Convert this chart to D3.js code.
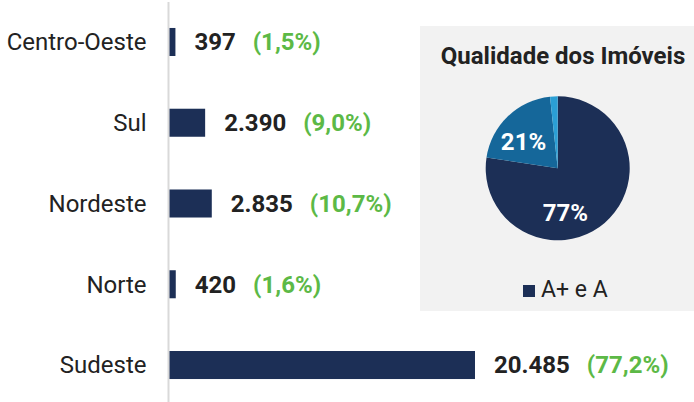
<!doctype html>
<html>
<head>
    <meta charset="utf-8">
    <title>Regiões</title>
    <script src="https://d3js.org/d3.v7.min.js"></script>
</head>

<style>
    body { margin: 0; background: #fff; }
    text { font-family: Roboto, sans-serif; }
</style>

<body>
<script>

// data
var regions = ['Centro-Oeste', 'Sul', 'Nordeste', 'Norte', 'Sudeste'];
var counts = [397, 2390, 2835, 420, 20485];
var countLabels = ['397', '2.390', '2.835', '420', '20.485'];
var shareLabels = ['(1,5%)', '(9,0%)', '(10,7%)', '(1,6%)', '(77,2%)'];

var pieTitle = 'Qualidade dos Imóveis';
var pieClasses = ['A+ e A', 'B', 'C'];
var pieValues = [77.4, 20.9, 1.7];
var pieLabels = ['77%', '21%', ''];
var legendClasses = ['A+ e A'];

// canvas
var width = 694, height = 402;
var navy = '#1c2f56';
var green = '#5cb946';

var svg = d3.select('body').append('svg')
            .attr('width', width)
            .attr('height', height);

// bar scales
var barLeft = 169.5;
var x = d3.scaleLinear()
          .domain([0, d3.max(counts)])
          .range([barLeft, 475]);

var y = d3.scaleBand()
          .domain(regions)
          .range([1.6, 405.4])
          .paddingInner(0.653)
          .paddingOuter(0.3265);

// vertical axis line
svg.append('line')
   .attr('x1', barLeft - 1).attr('x2', barLeft - 1)
   .attr('y1', 2).attr('y2', height)
   .attr('stroke', '#d9d9d9')
   .attr('stroke-width', 2);

// bars
svg.selectAll('rect.bar')
   .data(regions)
   .enter()
   .append('rect')
   .attr('class', 'bar')
   .attr('x', x(0))
   .attr('y', function(d) { return y(d); })
   .attr('width', function(d, i) { return x(counts[i]) - x(0); })
   .attr('height', y.bandwidth())
   .attr('fill', navy);

// category labels
svg.selectAll('text.cat')
   .data(regions)
   .enter()
   .append('text')
   .attr('class', 'cat')
   .attr('x', barLeft - 23)
   .attr('y', function(d) { return y(d) + y.bandwidth() / 2; })
   .attr('dy', '0.35em')
   .attr('text-anchor', 'end')
   .style('font-size', '24px')
   .attr('fill', '#222')
   .text(function(d) { return d; });

// value labels
var vals = svg.selectAll('text.val')
   .data(regions)
   .enter()
   .append('text')
   .attr('class', 'val')
   .attr('x', function(d, i) { return x(counts[i]) + 19; })
   .attr('y', function(d) { return y(d) + y.bandwidth() / 2; })
   .attr('dy', '0.35em')
   .style('font-size', '24px')
   .style('font-weight', 'bold');

vals.append('tspan')
    .attr('fill', '#222')
    .text(function(d, i) { return countLabels[i]; });

vals.append('tspan')
    .attr('dx', 17)
    .attr('fill', green)
    .text(function(d, i) { return shareLabels[i]; });

// pie panel
var panel = svg.append('g');
panel.append('rect')
     .attr('x', 420).attr('y', 26)
     .attr('width', width - 420).attr('height', 285)
     .attr('fill', '#f2f2f2');

panel.append('text')
     .attr('x', 563).attr('y', 64)
     .attr('text-anchor', 'middle')
     .style('font-size', '24px')
     .style('font-weight', 'bold')
     .attr('fill', '#222')
     .text(pieTitle);

var pieColor = d3.scaleOrdinal()
                 .domain(pieClasses)
                 .range([navy, '#15679a', '#2b9fd5']);

var radius = 72;
var pie = d3.pie().sort(null).value(function(d) { return d; });
var arc = d3.arc().innerRadius(0).outerRadius(radius);

var pieG = panel.append('g')
                .attr('transform', 'translate(557.7, 168.3)');

var slices = pie(pieValues);

pieG.selectAll('path')
    .data(slices)
    .enter()
    .append('path')
    .attr('d', arc)
    .attr('fill', function(d, i) { return pieColor(pieClasses[i]); });

pieG.selectAll('text')
    .data(slices)
    .enter()
    .append('text')
    .attr('transform', function(d) {
        // big slice label sits lower, like the original layout
        var a = (d.startAngle + d.endAngle) / 2;
        var r = radius * 0.6;
        if (d.endAngle - d.startAngle > Math.PI) { a = (a + Math.PI) / 2 + 0.18; r = radius * 0.62; }
        else { a -= 0.15; }
        return 'translate(' + (Math.sin(a) * r) + ',' + (-Math.cos(a) * r) + ')';
    })
    .attr('dy', '0.35em')
    .attr('text-anchor', 'middle')
    .style('font-size', '24px')
    .style('font-weight', 'bold')
    .attr('fill', '#fff')
    .text(function(d, i) { return pieLabels[i]; });

// legend
var legend = panel.selectAll('g.legend')
                  .data(legendClasses)
                  .enter()
                  .append('g')
                  .attr('class', 'legend')
                  .attr('transform', 'translate(523, 285)');

legend.append('rect')
      .attr('width', 12).attr('height', 12)
      .attr('fill', function(d) { return pieColor(d); });

legend.append('text')
      .attr('x', 18).attr('y', 12)
      .style('font-size', '23px')
      .attr('fill', '#222')
      .text(function(d) { return d; });

</script>
</body>
</html>
